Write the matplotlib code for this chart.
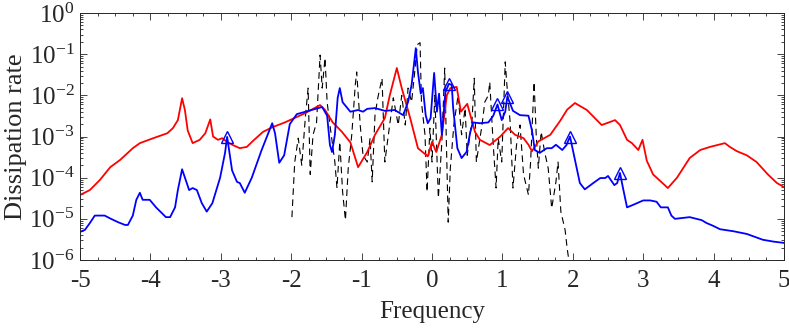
import matplotlib
matplotlib.use('Agg')
import matplotlib.pyplot as plt
from matplotlib.ticker import LogLocator, MultipleLocator, NullFormatter

# red curve
red_f = [-5.0, -4.86, -4.72, -4.57, -4.43, -4.25, -4.15, -3.96, -3.76, -3.68, -3.61, -3.55,
         -3.51, -3.47, -3.40, -3.30, -3.22, -3.15, -3.11, -3.04, -2.98, -2.91, -2.83, -2.73,
         -2.63, -2.54, -2.40, -2.26, -2.09, -1.80, -1.59, -1.52, -1.41, -1.28, -1.16, -1.05,
         -0.92, -0.81, -0.67, -0.60, -0.50, -0.43, -0.31, -0.20, -0.06, 0.0, 0.06, 0.14,
         0.21, 0.26, 0.35, 0.41, 0.50, 0.61, 0.68, 0.82, 0.97, 1.08, 1.18, 1.30, 1.37, 1.42,
         1.51, 1.68, 1.82, 1.92, 2.03, 2.20, 2.41, 2.60, 2.67, 2.77, 2.84, 2.93, 2.99, 3.05,
         3.14, 3.35, 3.48, 3.66, 3.81, 3.95, 4.16, 4.23, 4.33, 4.47, 4.61, 4.77, 4.90, 5.0]
red_d = [3.8e-5, 5.0e-5, 8.7e-5, 1.8e-4, 2.7e-4, 5.2e-4, 6.9e-4, 9.1e-4, 1.2e-3, 1.6e-3, 2.5e-3, 8.5e-3,
         4.4e-3, 1.4e-3, 6.9e-4, 8.3e-4, 1.2e-3, 2.6e-3, 1.0e-3, 8.3e-4, 9.1e-4, 7.4e-4, 6.2e-4, 5.2e-4,
         5.6e-4, 7.9e-4, 1.3e-3, 1.7e-3, 2.2e-3, 3.7e-3, 5.8e-3, 4.4e-3, 2.2e-3, 1.3e-3, 7.2e-4, 1.8e-4,
         4.2e-4, 1.1e-3, 2.8e-3, 1.0e-2, 4.6e-2, 1.5e-2, 2.8e-3, 5.2e-4, 3.3e-4, 7.4e-4, 4.2e-4, 1.1e-3,
         1.0e-2, 1.5e-2, 1.6e-2, 4.0e-3, 6.2e-3, 1.3e-3, 8.3e-4, 6.2e-4, 1.0e-3, 1.6e-3, 1.1e-3, 9.1e-4, 6.3e-4, 4.4e-4,
         7.6e-4, 1.1e-3, 2.4e-3, 4.5e-3, 6.5e-3, 4.4e-3, 1.9e-3, 2.5e-3, 1.9e-3, 8.3e-4, 6.9e-4, 4.7e-4, 8.3e-4, 2.6e-4,
         1.2e-4, 5.6e-5, 1.0e-4, 3.0e-4, 4.7e-4, 5.6e-4, 6.9e-4, 5.6e-4, 4.4e-4, 3.5e-4, 2.4e-4, 1.2e-4, 7.4e-5, 5.9e-5]

# blue curve
blue_f = [-5.0, -4.93, -4.86, -4.79, -4.70, -4.65, -4.56, -4.46, -4.36, -4.32, -4.25, -4.20,
          -4.15, -4.11, -4.01, -3.92, -3.78, -3.72, -3.65, -3.61, -3.55, -3.51, -3.45, -3.40,
          -3.34, -3.27, -3.20, -3.12, -3.01, -2.94, -2.91, -2.84, -2.77, -2.73, -2.66, -2.56,
          -2.42, -2.27, -2.23, -2.17, -2.10, -2.02, -1.92, -1.80, -1.66, -1.56, -1.49, -1.45,
          -1.42, -1.38, -1.34, -1.31, -1.27, -1.16, -1.05, -0.98, -0.92, -0.81, -0.67, -0.53,
          -0.41, -0.34, -0.29, -0.23, -0.20, -0.16, -0.13, -0.09, -0.06, -0.02, 0.03, 0.07,
          0.10, 0.14, 0.19, 0.24, 0.28, 0.30, 0.36, 0.42, 0.49, 0.54, 0.58, 0.68, 0.80, 0.87,
          0.93, 0.99, 1.04, 1.07, 1.15, 1.25, 1.37, 1.42, 1.46, 1.53, 1.63, 1.70, 1.76, 1.85,
          1.91, 1.96, 2.03, 2.10, 2.17, 2.29, 2.39, 2.46, 2.50, 2.59, 2.63, 2.67, 2.71, 2.77,
          2.86, 3.00, 3.10, 3.19, 3.25, 3.35, 3.40, 3.45, 3.66, 3.83, 3.90, 3.99, 4.09, 4.28,
          4.47, 4.70, 4.85, 5.0]
blue_d = [4.8e-6, 5.4e-6, 7.9e-6, 1.2e-5, 1.2e-5, 1.2e-5, 1.0e-5, 8.3e-6, 7.1e-6, 7.1e-6, 1.2e-5, 2.9e-5,
          4.3e-5, 2.9e-5, 2.9e-5, 1.9e-5, 1.1e-5, 1.1e-5, 1.9e-5, 5.0e-5, 1.6e-4, 1.0e-4, 5.0e-5, 5.6e-5,
          5.0e-5, 2.4e-5, 1.5e-5, 2.4e-5, 1.0e-4, 4.0e-4, 9.8e-4, 1.5e-4, 7.9e-5, 7.4e-5, 4.3e-5, 1.0e-4,
          4.7e-4, 2.1e-3, 1.2e-3, 2.3e-4, 3.5e-4, 2.0e-3, 3.5e-3, 4.0e-3, 4.7e-3, 5.2e-3, 3.2e-3, 6.2e-4,
          4.2e-4, 1.1e-3, 8.7e-3, 1.5e-2, 6.8e-3, 4.0e-3, 4.4e-3, 4.0e-3, 4.7e-3, 4.9e-3, 4.2e-3, 4.4e-3,
          3.3e-3, 6.9e-3, 1.8e-2, 1.4e-1, 3.7e-2, 1.1e-2, 1.5e-2, 3.3e-3, 2.1e-3, 2.8e-3, 3.5e-2, 4.0e-3,
          1.1e-2, 1.1e-3, 1.2e-2, 1.9e-2, 1.8e-2, 5.0e-3, 5.2e-4, 3.0e-4, 4.2e-4, 1.2e-3, 2.2e-3, 2.1e-3, 2.2e-3, 3.2e-3,
          6.0e-3, 2.5e-3, 4.0e-3, 9.3e-3, 4.2e-3, 3.3e-3, 3.2e-3, 1.4e-3, 4.7e-4, 4.0e-4, 5.2e-4, 5.2e-4, 6.3e-4, 4.7e-4,
          6.2e-4, 1.0e-3, 2.7e-4, 7.4e-5, 5.2e-5, 7.4e-5, 9.8e-5, 9.8e-5, 1.1e-4, 6.6e-5, 7.4e-5, 1.3e-4, 5.9e-5, 1.9e-5,
          2.2e-5, 2.8e-5, 2.8e-5, 2.6e-5, 1.9e-5, 1.9e-5, 1.2e-5, 1.0e-5, 1.1e-5, 9.3e-6, 7.9e-6, 6.8e-6, 5.6e-6, 5.0e-6,
          4.3e-6, 3.1e-6, 2.8e-6, 2.6e-6]

# marked peaks on the blue curve
peak_f = [-2.91, 0.24, 0.93, 1.07, 1.96, 2.67]
peak_d = [9.8e-4, 1.9e-2, 6.0e-3, 9.3e-3, 1.0e-3, 1.3e-4]

# black dashed curve
dash_f = [-1.99, -1.95, -1.90, -1.85, -1.80, -1.76, -1.73, -1.69, -1.64, -1.59, -1.56, -1.52,
          -1.49, -1.45, -1.38, -1.35, -1.31, -1.27, -1.23, -1.19, -1.14, -1.09, -1.07, -1.02,
          -0.98, -0.92, -0.88, -0.85, -0.81, -0.77, -0.71, -0.67, -0.62, -0.55, -0.48, -0.43,
          -0.38, -0.34, -0.29, -0.24, -0.21, -0.17, -0.15, -0.10, -0.07, -0.03, 0.00, 0.04,
          0.09, 0.14, 0.18, 0.23, 0.26, 0.31, 0.37, 0.42, 0.47, 0.50, 0.57, 0.60, 0.63, 0.71,
          0.75, 0.80, 0.82, 0.87, 0.91, 0.94, 0.99, 1.04, 1.06, 1.11, 1.15, 1.20, 1.25, 1.30,
          1.37, 1.40, 1.45, 1.48, 1.51, 1.55, 1.60, 1.65, 1.70, 1.76, 1.79, 1.83, 1.89, 1.92, 1.96]
dash_d = [1.1e-5, 2.4e-4, 9.1e-4, 2.0e-4, 2.8e-3, 1.5e-2, 1.2e-4, 1.1e-3, 2.2e-3, 9.5e-2, 1.5e-2, 8.1e-2,
          6.9e-3, 1.9e-3, 2.4e-4, 5.6e-5, 7.4e-4, 4.5e-5, 9.3e-6, 1.7e-4, 1.1e-3, 1.8e-2, 3.7e-2, 1.9e-3,
          3.5e-4, 2.4e-4, 9.1e-4, 7.9e-5, 3.3e-3, 8.7e-3, 2.6e-2, 2.4e-4, 1.1e-3, 8.7e-3, 1.9e-3, 1.0e-2,
          1.9e-3, 1.5e-2, 6.9e-3, 4.6e-2, 1.7e-1, 1.9e-1, 6.9e-3, 1.1e-3, 4.5e-5, 1.6e-3, 2.4e-4, 1.0e-2,
          3.2e-5, 7.4e-4, 4.6e-2, 8.3e-6, 1.7e-4, 1.9e-3, 1.0e-2, 1.1e-3, 4.9e-3, 3.5e-4, 2.8e-3, 2.6e-2, 2.4e-4, 1.9e-3,
          6.9e-3, 1.0e-2, 2.1e-2, 6.2e-4, 5.6e-5, 9.1e-4, 2.4e-4, 6.5e-2, 2.1e-2, 2.2e-3, 5.6e-5, 6.2e-4, 1.9e-3, 1.2e-4,
          3.8e-5, 2.4e-4, 2.1e-2, 1.1e-3, 1.7e-4, 1.3e-3, 4.2e-4, 1.7e-4, 1.8e-5, 7.9e-5, 2.4e-4, 1.5e-5, 5.4e-6, 1.9e-6, 6.3e-7]

plt.rcParams['font.family'] = 'serif'
plt.rcParams['font.serif'] = ['Liberation Serif', 'DejaVu Serif']
plt.rcParams['mathtext.fontset'] = 'stix'
plt.rcParams['axes.unicode_minus'] = False

fig = plt.figure(figsize=(7.89, 3.3), dpi=100)
ax = fig.add_axes([0.1014, 0.2121, 0.8923, 0.7485])

ax.plot(dash_f, dash_d, color='black', lw=0.8, dashes=(6, 4))
ax.plot(red_f, red_d, color='red', lw=1.3)
ax.plot(blue_f, blue_d, color='blue', lw=1.3)
ax.plot(peak_f, peak_d, ls='none', marker='^', ms=8.5, mfc='none', mec='blue', mew=1.0)

ax.set_yscale('log')
ax.set_xlim(-5, 5)
ax.set_ylim(1e-6, 1e0)
ax.xaxis.set_major_locator(MultipleLocator(1))
ax.xaxis.set_minor_locator(MultipleLocator(0.25))
ax.yaxis.set_major_locator(LogLocator(base=10, numticks=10))
ax.yaxis.set_minor_locator(LogLocator(base=10, subs=range(2, 10), numticks=10))
ax.yaxis.set_minor_formatter(NullFormatter())

ax.tick_params(which='both', direction='in', top=True, right=True, colors='#262626',
               labelsize=18, width=0.6)
ax.tick_params(which='major', length=5)
ax.tick_params(which='minor', length=2.5)
ax.tick_params(axis='x', pad=7)
ax.tick_params(axis='y', pad=4)
for s in ax.spines.values():
    s.set_color('#262626')
    s.set_linewidth(0.7)

ax.set_xlabel('Frequency', fontsize=18, color='#262626', labelpad=7)
ax.set_ylabel('Dissipation rate', fontsize=19, color='#262626', labelpad=1)

fig.savefig('out.png', dpi=100)
